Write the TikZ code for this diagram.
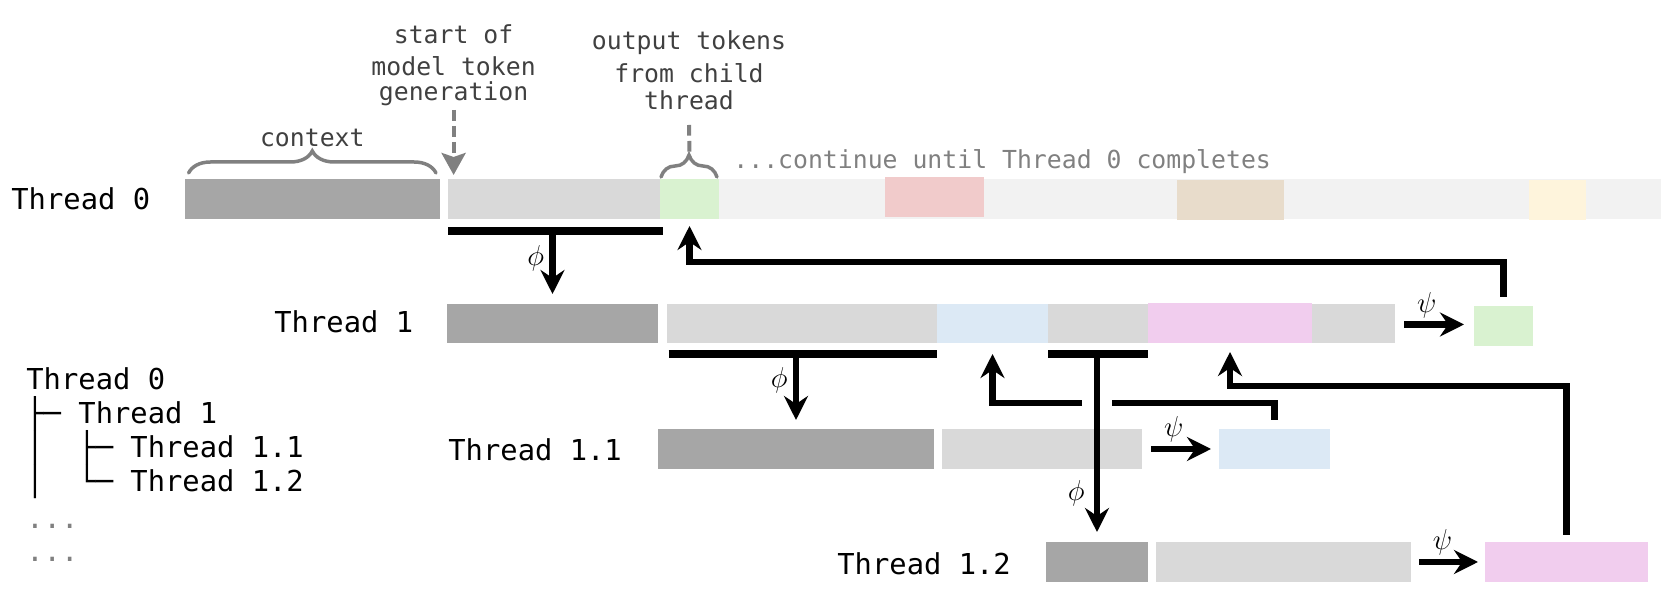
\documentclass[tikz,border=0pt]{standalone}
\usepackage{fontspec}
\usetikzlibrary{arrows.meta,calc,fit,decorations.pathreplacing}

\newfontfamily\dmono{DejaVu Sans Mono}

\definecolor{ctxgray}{HTML}{A6A6A6}
\definecolor{gengray}{HTML}{D9D9D9}
\definecolor{restgray}{HTML}{F2F2F2}
\definecolor{outgreen}{HTML}{D9F2D0}
\definecolor{outred}{HTML}{F1CBCB}
\definecolor{outtan}{HTML}{E8DCCB}
\definecolor{outyellow}{HTML}{FEF4DC}
\definecolor{outblue}{HTML}{DCE9F5}
\definecolor{outpink}{HTML}{F1CDEE}
\definecolor{anntext}{HTML}{404040}
\definecolor{annline}{HTML}{808080}

\tikzset{
  tok/.style={inner sep=0pt, outer sep=0pt},
  lbl/.style={font=\dmono\fontsize{14.4}{16.8}\selectfont, anchor=base west, inner sep=0pt},
  ann/.style={font=\dmono\fontsize{12.4}{14}\selectfont, text=anntext, anchor=base, inner sep=0pt},
  sym/.style={font=\fontsize{14.4}{17}\selectfont, inner sep=1.5pt},
  bar/.style={line width=3.6pt},
  wire/.style={line width=3.4pt},
  flow/.style={wire, -{Stealth[length=12pt,width=12pt,inset=4pt]}},
  hint/.style={draw=annline, line width=2pt, dash pattern=on 5.3pt off 2.7pt},
  bracket/.style={draw=annline, line width=1.75pt, line cap=round, decorate, decoration={brace, amplitude=11pt}}
}

\begin{document}
\begin{tikzpicture}[x=0.5pt,y=-0.5pt]
\useasboundingbox (0,0) rectangle (1661,597);

\node[tok, fill=ctxgray, fit={(184.6,179) (440,219)}] (ctx0) {};
\node[tok, fill=gengray, fit={(448,179) (660,219)}] (gen0) {};
\node[tok, fill=outgreen, fit={(660,179) (719,219)}] (out0) {};
\node[tok, fill=restgray, fit={(719,179) (1661,219)}] (cont0) {};
\node[tok, fill=outred, fit={(885,177) (983.5,217)}] (red0) {};
\node[tok, fill=outtan, fit={(1177,180) (1284,220)}] (tan0) {};
\node[tok, fill=outyellow, fit={(1529,180) (1585.5,220)}] (yel0) {};

\node[tok, fill=ctxgray, fit={(447,304) (658,343)}] (ctx1) {};
\node[tok, fill=gengray, fit={(666.5,304) (937,343)}] (gen1a) {};
\node[tok, fill=outblue, fit={(937,304) (1048,343)}] (res11) {};
\node[tok, fill=gengray, fit={(1048,304) (1148,343)}] (gen1b) {};
\node[tok, fill=outpink, fit={(1148,303) (1312,343)}] (res12) {};
\node[tok, fill=gengray, fit={(1312,304) (1395,343)}] (gen1c) {};
\node[tok, fill=outgreen, fit={(1474,306) (1533,346)}] (out1) {};

\node[tok, fill=ctxgray, fit={(658,429) (934,469)}] (ctx11) {};
\node[tok, fill=gengray, fit={(942,429) (1142,469)}] (gen11) {};
\node[tok, fill=outblue, fit={(1219,429) (1330,469)}] (out11) {};

\node[tok, fill=ctxgray, fit={(1046,542) (1148,582)}] (ctx12) {};
\node[tok, fill=gengray, fit={(1156,542) (1411,582)}] (gen12) {};
\node[tok, fill=outpink, fit={(1485,542) (1648,582)}] (out12) {};

\node[lbl] (th0) at (11,210) {Thread 0};
\node[lbl] (th1) at (274,333) {Thread 1};
\node[lbl] (th11) at (448,461) {Thread 1.1};
\node[lbl] (th12) at (837,575) {Thread 1.2};

\node[lbl] (tr0) at (26,390) {Thread 0};
\node[lbl] (tr1) at (26,423.7) {├─ Thread 1};
\node[lbl] (tr2) at (26,457.4) {│\ \ ├─ Thread 1.1};
\node[lbl] (tr3) at (26,491.1) {│\ \ └─ Thread 1.2};
\node[lbl, text=annline] (tr4) at (26,529) {...};
\node[lbl, text=annline] (tr5) at (26,562) {...};

\node[ann] (st1) at (453.6,44) {start of};
\node[ann] (st2) at (453.6,76) {model token};
\node[ann] (st3) at (453.6,101) {generation};
\node[ann] (ot1) at (689,50) {output tokens};
\node[ann] (ot2) at (689,83) {from child};
\node[ann] (ot3) at (689,110) {thread};
\node[ann] (ctxt) at ($(ctx0.north)+(0,-32)$) {context};
\node[ann, anchor=base west, text=annline] (more) at (733,169) {...continue until Thread 0 completes};

\draw[bracket] ($(ctx0.north west)+(4,-6)$) -- ($(ctx0.north east)+(-4,-6)$);
\draw[bracket] ($(out0.north west)+(1,-2)$) -- ($(out0.north east)+(-2,-2)$);
\draw[hint, -{Stealth[length=11pt,width=12pt,inset=2pt]}] ($(st3.base)+(0,9)$) -- ($(st3.base |- gen0.north)+(0,-4)$);
\draw[hint] ($(ot3.base)+(0,15)$) -- ($(out0.north)+(0,-24)$);

\draw[bar] ($(gen0.south west)+(0,12)$) coordinate (fk0) -- ($(gen0.south east)+(3,12)$);
\draw[flow] (fk0 -| ctx1.north) -- node[sym, left=1pt, pos=.43] {$\phi$} ($(ctx1.north)+(0,-10)$);

\draw[bar] ($(gen1a.south west)+(2,11)$) coordinate (fk1) -- ($(gen1a.south east)+(0,11)$);
\draw[flow] (fk1 -| ctx11.north) -- node[sym, left=1pt, pos=.4] {$\phi$} ($(ctx11.north)+(0,-9)$);

\draw[bar] ($(gen1b.south west)+(0,11)$) coordinate (fk2) -- ($(gen1b.south east)+(0,11)$);
\draw[flow] (fk2 -| ctx12.north) -- node[sym, left=3pt, pos=.78] {$\phi$} ($(ctx12.north)+(0,-10)$);

\draw[flow] ($(gen1c.east)+(9,1)$) -- node[sym, above=0pt, pos=.38] {$\psi$} ($(gen1c.east -| out1.west)+(-10,1)$);
\draw[flow] ($(gen11.east)+(9,0)$) -- node[sym, above=0pt, pos=.38] {$\psi$} ($(gen11.east -| out11.west)+(-8,0)$);
\draw[flow] ($(gen12.east)+(8,0)$) -- node[sym, above=0pt, pos=.4] {$\psi$} ($(gen12.east -| out12.west)+(-7,0)$);

\draw[flow] ($(out1.north)+(0,-9)$) |- ($(out0.south)+(0,43)$) -- ($(out0.south)+(0,7)$);

\coordinate (kk) at ($(out11.north)+(0,-26)$);
\draw[wire] ($(out11.north)+(0,-9)$) -- (kk) -- ($(kk -| ctx12.north)+(15,0)$);
\draw[flow] ($(kk -| ctx12.north)+(-15,0)$) -| ($(res11.south)+(0,11)$);

\draw[flow] ($(out12.north)+(0,-7)$) |- ($(res12.south)+(0,43)$) -- ($(res12.south)+(0,9)$);
\end{tikzpicture}
\end{document}
